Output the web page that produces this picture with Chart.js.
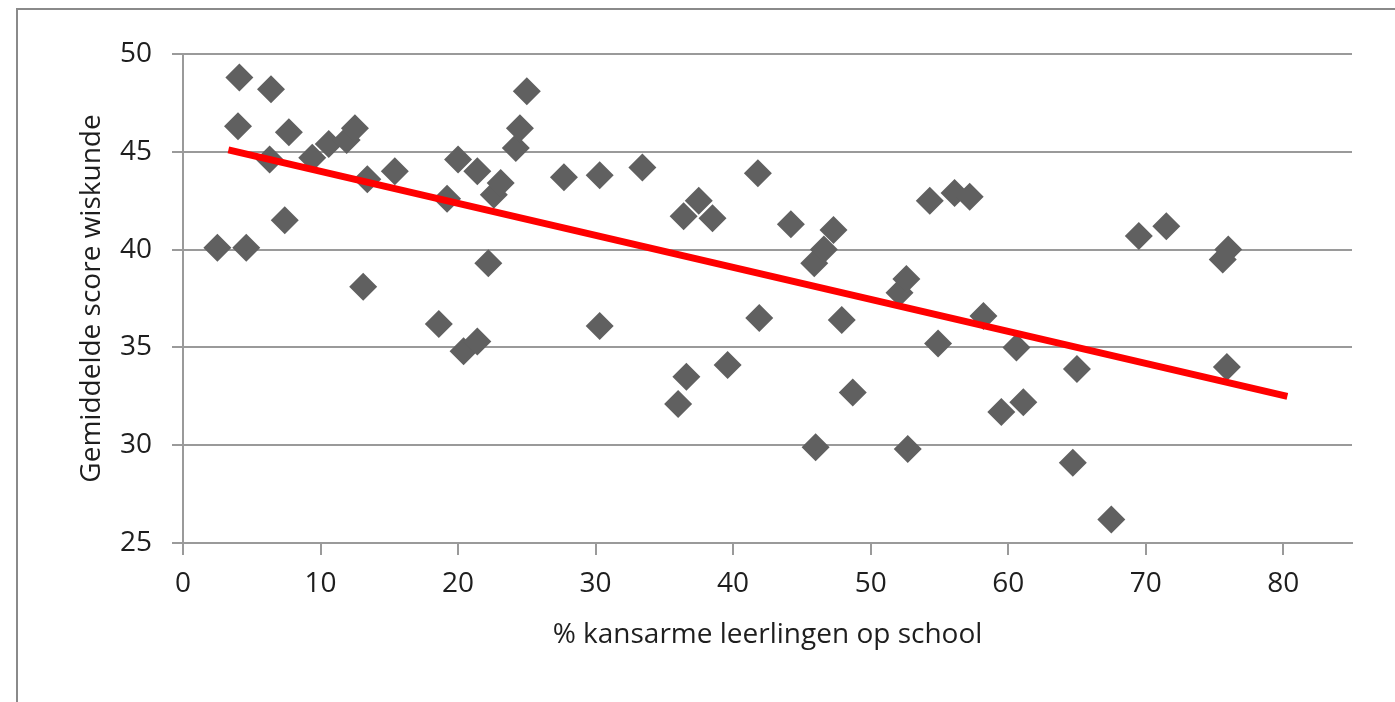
<!DOCTYPE html>
<html>
<head>
<meta charset="utf-8">
<script src="https://cdn.jsdelivr.net/npm/chart.js@4"></script>
<style>
  html, body { margin: 0; padding: 0; background: #fff; }
  #wrap { width: 1395px; height: 702px; position: relative; }
</style>
</head>
<body>
<div id="wrap"><canvas id="chart"></canvas></div>
<script>
'use strict';

// % kansarme leerlingen per school
const pctKansarm = [
  2.5, 4.1, 4.0, 4.6, 6.4, 6.3, 7.7, 7.4, 9.4, 10.6,
  11.9, 12.5, 13.4, 13.1, 15.4, 18.6, 19.2, 20.0, 20.4, 21.4,
  21.4, 22.2, 22.6, 23.1, 24.2, 24.5, 25.0, 27.7, 30.3, 30.3,
  33.4, 36.0, 36.6, 36.4, 37.5, 38.5, 39.6, 41.8, 41.9, 44.2,
  45.9, 46.6, 46.0, 47.3, 47.9, 48.7, 52.1, 52.6, 52.7, 54.3,
  54.9, 56.1, 57.2, 58.2, 59.5, 60.6, 61.1, 64.7, 65.0, 67.5,
  69.5, 71.5, 75.6, 76.0, 75.9
];
// gemiddelde score wiskunde per school
const scoreWiskunde = [
  40.1, 48.8, 46.3, 40.1, 48.2, 44.6, 46.0, 41.5, 44.7, 45.4,
  45.6, 46.2, 43.6, 38.1, 44.0, 36.2, 42.6, 44.6, 34.8, 44.0,
  35.3, 39.3, 42.8, 43.4, 45.2, 46.2, 48.1, 43.7, 43.8, 36.1,
  44.2, 32.1, 33.5, 41.7, 42.5, 41.6, 34.1, 43.9, 36.5, 41.3,
  39.3, 40.0, 29.9, 41.0, 36.4, 32.7, 37.8, 38.5, 29.8, 42.5,
  35.2, 42.9, 42.7, 36.6, 31.7, 35.0, 32.2, 29.1, 33.9, 26.2,
  40.7, 41.2, 39.5, 40.0, 34.0
];
// trendlijn (begin- en eindpunt)
const trendX = [3.3, 80.3];
const trendY = [45.1, 32.5];

const xTickValues = [0, 10, 20, 30, 40, 50, 60, 70, 80];

const GRID = '#9a9a9a';
const TEXT = '#1e1e1e';
const FONT = { family: "'Open Sans', sans-serif", size: 28 };

const points = pctKansarm.map((x, i) => ({ x, y: scoreWiskunde[i] }));
const trend = trendX.map((x, i) => ({ x, y: trendY[i] }));

// outer frame (only the left and top edges are visible in the original)
const framePlugin = {
  id: 'frame',
  beforeDraw(chart) {
    const ctx = chart.ctx;
    ctx.save();
    ctx.strokeStyle = '#8a8a8a';
    ctx.lineWidth = 2;
    ctx.beginPath();
    ctx.moveTo(17, chart.height);
    ctx.lineTo(17, 9);
    ctx.lineTo(chart.width, 9);
    ctx.stroke();
    ctx.restore();
  }
};

new Chart(document.getElementById('chart'), {
  type: 'scatter',
  data: {
    datasets: [
      {
        type: 'line',
        data: trend,
        borderColor: '#ff0000',
        borderWidth: 7,
        pointRadius: 0,
        fill: false,
        tension: 0,
        order: 0
      },
      {
        data: points,
        pointStyle: 'rectRot',
        pointRadius: 14,
        pointHoverRadius: 14,
        pointBackgroundColor: '#606060',
        pointBorderWidth: 0,
        borderWidth: 0,
        order: 1
      }
    ]
  },
  options: {
    responsive: true,
    maintainAspectRatio: false,
    animation: false,
    layout: { padding: { left: 0, top: 54, right: 43, bottom: 0 } },
    plugins: { legend: { display: false }, tooltip: { enabled: false } },
    scales: {
      x: {
        type: 'linear',
        min: 0,
        max: 85,
        afterBuildTicks: s => { s.ticks = xTickValues.map(v => ({ value: v })); },
        afterFit: s => { s.height = 702 - 543; },
        grid: { drawOnChartArea: false, drawTicks: true, tickLength: 12, color: GRID, lineWidth: 2 },
        border: { display: true, color: GRID, width: 2 },
        ticks: { color: TEXT, font: FONT, padding: 12, maxRotation: 0, autoSkip: false },
        title: { display: true, text: '% kansarme leerlingen op school', color: TEXT, font: FONT, padding: { top: 0, bottom: 50 } }
      },
      y: {
        min: 25,
        max: 50,
        afterFit: s => { s.width = 183; },
        grid: { color: GRID, lineWidth: 2, drawTicks: true, tickLength: 11 },
        border: { display: true, color: GRID, width: 2 },
        ticks: { stepSize: 5, color: TEXT, font: FONT, padding: 20 },
        title: { display: true, text: 'Gemiddelde score wiskunde', color: TEXT, font: FONT, padding: { top: 75, bottom: 0 } }
      }
    }
  },
  plugins: [framePlugin]
});
</script>
</body>
</html>
